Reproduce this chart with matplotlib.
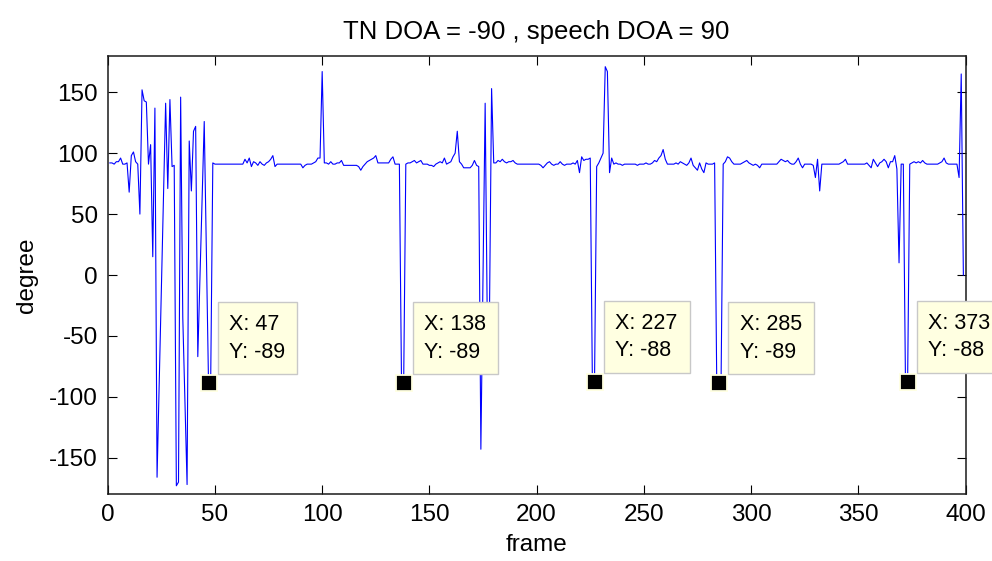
import numpy as np
import matplotlib
matplotlib.use("Agg")
import matplotlib.pyplot as plt

plt.rcParams['font.family'] = ['Liberation Sans', 'DejaVu Sans']
plt.rcParams['axes.unicode_minus'] = False

# estimated DOA per frame (frames 1..399)
doa = [
    92, 92, 91, 93, 93, 96, 91, 91, 92, 68, 98, 101, 93, 91, 50, 152, 143, 142, 91, 107,
    15, 137, -166, -89, -12, 65, 141, 71, 144, 89, 90, -173, -170, 146, -35, -104, -172, 110, 69, 118,
    122, -67, -3, 62, 126, 18, -89, -89, 92, 91, 91, 91, 91, 91, 91, 91, 91, 91, 91, 91,
    91, 91, 91, 95, 92, 96, 89, 93, 92, 90, 93, 91, 90, 92, 93, 95, 98, 89, 91, 91,
    91, 91, 91, 91, 91, 91, 91, 91, 91, 91, 88, 90, 91, 91, 91, 92, 93, 96, 96, 167,
    92, 92, 91, 93, 91, 91, 92, 92, 94, 90, 90, 90, 90, 90, 90, 90, 89, 86, 89, 91,
    93, 94, 95, 96, 98, 92, 92, 92, 92, 92, 92, 95, 97, 91, 91, 91, -89, -89, 91, 92,
    92, 93, 94, 92, 93, 94, 91, 91, 91, 90, 90, 89, 91, 92, 93, 92, 96, 91, 92, 93,
    97, 100, 118, 93, 91, 88, 88, 88, 88, 90, 94, 90, 89, -143, 0, 141, -40, -35, 153, 92,
    92, 94, 93, 95, 93, 92, 93, 93, 94, 92, 91, 91, 91, 91, 91, 91, 91, 91, 91, 91,
    91, 90, 88, 90, 92, 93, 91, 90, 91, 91, 93, 91, 90, 91, 91, 91, 92, 91, 94, 84,
    97, 94, 95, 95, 96, -88, -88, 89, 92, 96, 100, 171, 167, 84, 96, 91, 92, 91, 91, 90,
    91, 91, 91, 91, 91, 91, 90, 91, 91, 91, 92, 91, 91, 92, 94, 93, 96, 98, 103, 95,
    91, 91, 91, 91, 92, 91, 93, 92, 91, 90, 92, 96, 90, 88, 86, 92, 87, 84, 92, 91,
    91, 91, 92, -89, -89, -89, 91, 93, 97, 96, 93, 91, 91, 91, 91, 92, 93, 94, 92, 91,
    90, 91, 90, 88, 91, 91, 91, 91, 91, 91, 91, 91, 93, 95, 94, 93, 94, 92, 91, 91,
    93, 96, 91, 88, 91, 91, 91, 91, 90, 80, 95, 69, 91, 91, 91, 91, 91, 91, 91, 91,
    91, 92, 93, 95, 91, 91, 91, 91, 91, 91, 91, 91, 91, 92, 90, 88, 95, 92, 89, 92,
    93, 95, 93, 88, 93, 93, 98, 87, 10, 91, 91, -88, -88, 91, 92, 93, 92, 93, 92, 94,
    92, 91, 91, 91, 91, 91, 91, 92, 93, 96, 92, 91, 91, 91, 91, 91, 80, 165, 0,
]
frames = np.arange(1, len(doa) + 1)

# data tips
tip_x = [47, 138, 227, 285, 373]
tip_y = [-89, -89, -88, -89, -88]

xticks = [0, 50, 100, 150, 200, 250, 300, 350, 400]
yticks = [-150, -100, -50, 0, 50, 100, 150]

fig = plt.figure(figsize=(9.92, 5.61), dpi=100)
ax = fig.add_axes([0.1086, 0.1189, 0.8647, 0.7818])

ax.plot(frames, doa, color='#0000ff', lw=0.8)

ax.plot(tip_x, tip_y, 's', ms=11, mfc='black', mec='#ffffe1', mew=1.3, zorder=5)
for x, y in zip(tip_x, tip_y):
    ax.annotate('X: %d\nY: %d' % (x, y), xy=(x, y), xytext=(15, 15),
                textcoords='offset points', ha='left', va='bottom',
                fontsize=15.5, linespacing=1.4, annotation_clip=False, zorder=6,
                bbox=dict(boxstyle='square,pad=0.55', fc='#ffffe1', ec='#c8c8c8', lw=1))

ax.set_xlim(0, 400)
ax.set_ylim(-180, 180)
ax.set_xticks(xticks)
ax.set_yticks(yticks)
ax.tick_params(direction='in', top=True, right=True, length=6.5, width=0.8,
               labelsize=17.5, pad=7)
for s in ax.spines.values():
    s.set_linewidth(1.1)
    s.set_color('#1a1a1a')

ax.set_title('TN DOA = -90 , speech DOA = 90', fontsize=18.5, pad=12)
ax.set_xlabel('frame', fontsize=17.5, labelpad=6)
ax.set_ylabel('degree', fontsize=17.5, labelpad=8)

fig.savefig('out.png', dpi=100)
